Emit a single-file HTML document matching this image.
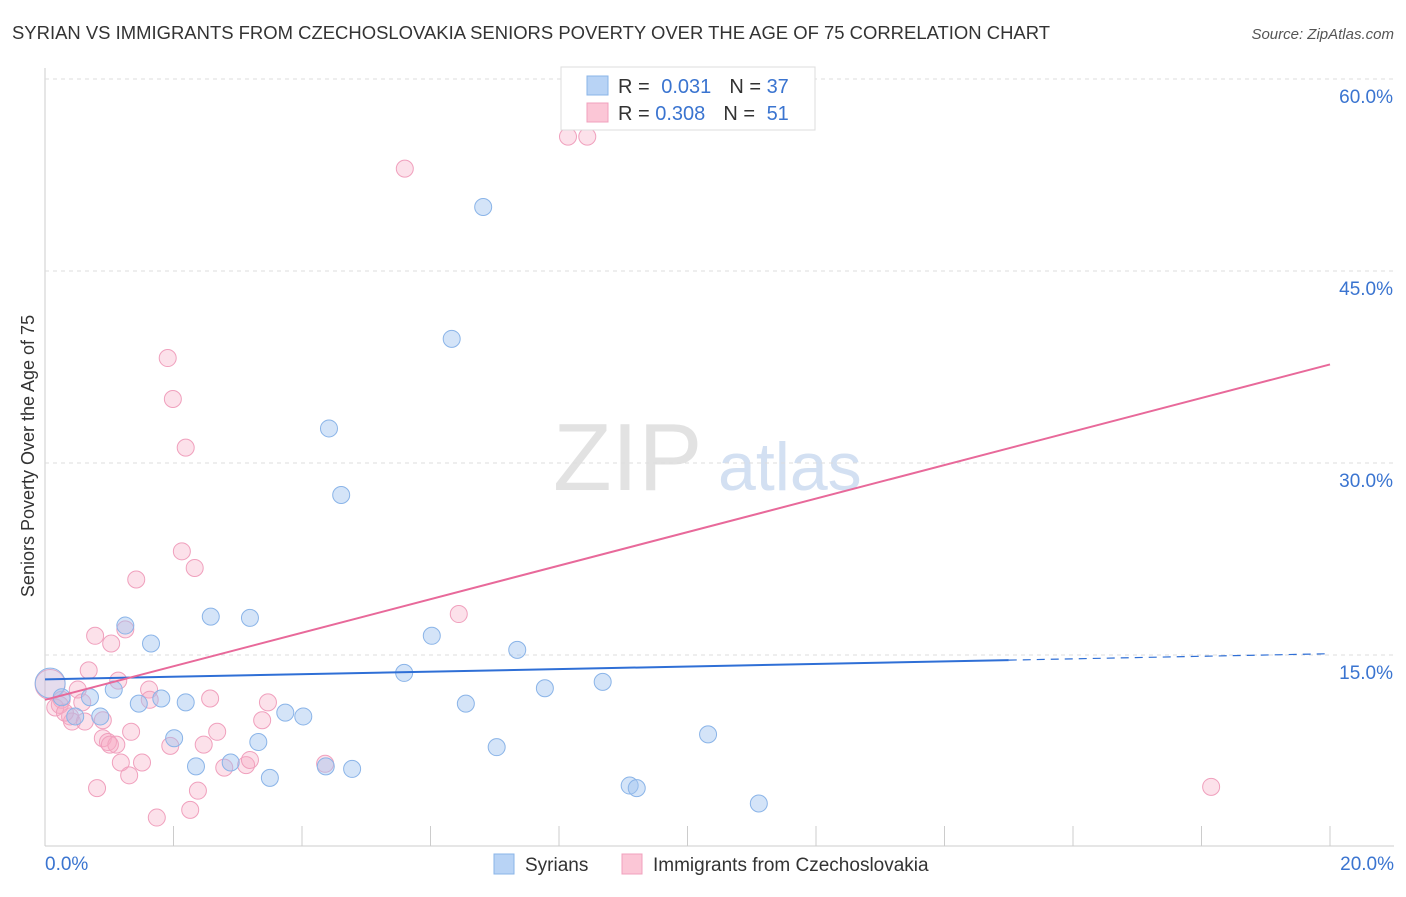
<!DOCTYPE html>
<html><head><meta charset="utf-8"><style>
body{margin:0;background:#fff;font-family:"Liberation Sans",sans-serif;}
svg text{font-family:"Liberation Sans",sans-serif;}
</style></head><body>
<svg id="chart" width="1406" height="892" xmlns="http://www.w3.org/2000/svg">
<text x="12" y="39" font-size="18" fill="#333" textLength="1038" lengthAdjust="spacingAndGlyphs">SYRIAN VS IMMIGRANTS FROM CZECHOSLOVAKIA SENIORS POVERTY OVER THE AGE OF 75 CORRELATION CHART</text>
<text x="1394" y="39" font-size="15" fill="#555" font-style="italic" text-anchor="end">Source: ZipAtlas.com</text>
<text transform="translate(34,456) rotate(-90)" font-size="18" fill="#333" text-anchor="middle">Seniors Poverty Over the Age of 75</text>
<text x="553" y="490" font-size="96" fill="#e2e2e2" font-family="Liberation Serif">ZIP</text>
<text x="718" y="490" font-size="68" fill="#d3e0f2">atlas</text>
<g id="grid"></g><g id="pts"></g><g id="lines"></g>
<g>
<rect x="561" y="67" width="254" height="63" fill="#fff" stroke="#ddd"/>
<rect x="587" y="76" width="21" height="19" fill="#b8d3f5" stroke="#8ab4e8"/>
<rect x="587" y="103" width="21" height="19" fill="#fbc6d6" stroke="#f0a0bd"/>
<text x="618" y="93" font-size="20" fill="#333">R = <tspan fill="#3a74d0" dx="6">0.031</tspan><tspan fill="#333" dx="18">N = </tspan><tspan fill="#3a74d0">37</tspan></text>
<text x="618" y="120" font-size="20" fill="#333">R = <tspan fill="#3a74d0">0.308</tspan><tspan fill="#333" dx="18">N = </tspan><tspan fill="#3a74d0" dx="6">51</tspan></text>
</g>
<g>
<rect x="494" y="854" width="20" height="20" fill="#b8d3f5" stroke="#8ab4e8"/>
<text x="525" y="871" font-size="19" fill="#333">Syrians</text>
<rect x="622" y="854" width="20" height="20" fill="#fbc6d6" stroke="#f0a0bd"/>
<text x="653" y="871" font-size="19" fill="#333">Immigrants from Czechoslovakia</text>
</g>
</svg>
<script>
const yTicks=[15,30,45,60];
const xTicks=[0,2,4,6,8,10,12,14,16,18,20];
const blueX=[0.08,0.26,0.70,0.86,0.47,1.07,1.25,1.46,1.65,1.81,2.01,2.19,2.35,2.58,2.89,3.19,3.32,3.50,3.74,4.02,4.37,4.42,4.61,4.78,5.59,6.02,6.33,6.55,6.82,7.03,7.35,7.78,8.68,9.10,9.21,10.32,11.11];
const blueY=[12.8,11.7,11.7,10.2,10.2,12.3,17.3,11.2,15.9,11.6,8.5,11.3,6.3,18.0,6.6,17.9,8.2,5.4,10.5,10.2,6.3,32.7,27.5,6.1,13.6,16.5,39.7,11.2,50.0,7.8,15.4,12.4,12.9,4.8,4.6,8.8,3.4];
const pinkX=[0.08,0.16,0.26,0.39,0.42,0.51,0.58,0.68,0.78,0.81,0.90,0.90,0.98,1.03,1.11,1.14,1.18,1.25,1.31,1.34,1.42,1.51,1.62,1.74,1.91,1.95,1.99,2.13,2.19,2.26,2.33,2.38,2.47,2.57,2.68,2.79,3.13,3.19,3.38,3.47,4.36,5.60,6.44,8.14,8.44,18.15,0.23,0.62,1.63,1.01,0.31];
const pinkY=[12.7,10.9,11.5,10.2,9.8,12.3,11.3,13.8,16.5,4.6,9.9,8.5,8.2,15.9,8.0,13.0,6.6,17.0,5.6,9.0,20.9,6.6,12.3,2.3,38.2,7.9,35.0,23.1,31.2,2.9,21.8,4.4,8.0,11.6,9.0,6.2,6.4,6.8,9.9,11.3,6.5,53.0,18.2,55.5,55.5,4.7,11.1,9.8,11.5,8.0,10.5];
const blueTrend=[13.1,15.1], pinkTrend=[11.5,37.7];
const NS="http://www.w3.org/2000/svg";
const X=v=>45+v/20*1285, Y=v=>847-v/15*192;
function mk(t,a,p){const e=document.createElementNS(NS,t);for(const k in a)e.setAttribute(k,a[k]);p.appendChild(e);return e;}
const grid=document.getElementById('grid');
const ax=mk('line',{x1:45,y1:68,x2:45,y2:846,stroke:'#ccc'},grid);


const bx=mk('line',{x1:45,y1:846,x2:1394,y2:846,stroke:'#ccc'},grid);


yTicks.forEach(t=>{
 const l=mk('line',{x1:45,x2:1394,y1:Y(t),y2:Y(t),stroke:'#ddd','stroke-dasharray':'4,4'},grid);
 
 
 const tx=mk('text',{x:1393,y:Y(t)+24,'font-size':19,fill:'#3a74d0','text-anchor':'end'},grid);
 tx.textContent=t.toFixed(1)+'%';
 
 
});
xTicks.forEach(t=>{
 const l=mk('line',{x1:X(t),x2:X(t),y1:826,y2:846,stroke:'#ccc'},grid);
 
 
});
[[0,'0.0%','start',45],[20,'20.0%','end',1394]].forEach(([v,s,a,x])=>{
 const tx=mk('text',{x:x,y:870,'font-size':19,fill:'#3a74d0','text-anchor':a},grid);
 tx.textContent=s;
 
 
});
const pts=document.getElementById('pts');
function dots(xs,ys,fill,bigFill,stroke,name){xs.forEach((x,i)=>{
 const c=mk('circle',{cx:X(x),cy:Y(ys[i]),r:i==0?15:8.5,fill:i==0?bigFill:fill,stroke:stroke,'stroke-width':1},pts);
 
 
});}
dots(pinkX,pinkY,'rgba(246,170,195,0.35)','rgba(246,170,195,0.3)','#f0a0bd','czech-point');
dots(blueX,blueY,'rgba(160,196,240,0.45)','rgba(160,196,240,0.25)','#8ab4e8','syrian-point');
const lines=document.getElementById('lines');
const bs=blueTrend[0]+(blueTrend[1]-blueTrend[0])*15/20;
const b1=mk('line',{x1:X(0),y1:Y(blueTrend[0]),x2:X(15),y2:Y(bs),stroke:'#2f6fd6','stroke-width':2},lines);


const b2=mk('line',{x1:X(15),y1:Y(bs),x2:X(20),y2:Y(blueTrend[1]),stroke:'#2f6fd6','stroke-width':1.2,'stroke-dasharray':'8,6'},lines);


const p1=mk('line',{x1:X(0),y1:Y(pinkTrend[0]),x2:X(20),y2:Y(pinkTrend[1]),stroke:'#e8699a','stroke-width':2},lines);


</script>
</body></html>
